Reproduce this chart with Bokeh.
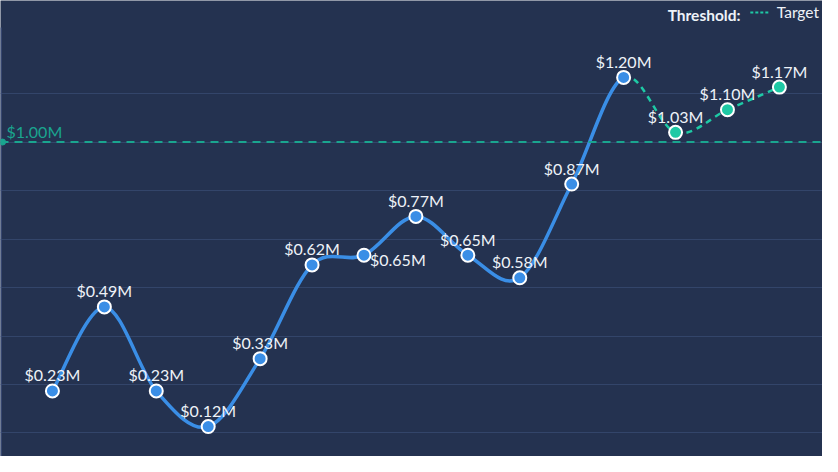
import numpy as np
from bokeh.plotting import figure
from bokeh.models import Range1d, FixedTicker, Span, Label, Legend, LegendItem, ColumnDataSource
from bokeh.core.properties import value
from bokeh.embed import file_html
from bokeh.resources import INLINE

# ---- data ----
periods = list(range(15))
revenue = [0.23, 0.49, 0.23, 0.12, 0.33, 0.62, 0.65, 0.77, 0.65, 0.58, 0.87, 1.20, 1.03, 1.10, 1.17]
actual_count = 12          # first 12 points are actuals, the rest projected
threshold = 1.00
threshold_label = "$1.00M"
grid_ticks = [0.10, 0.25, 0.40, 0.55, 0.70, 0.85, 1.00, 1.15]

BG = "#243250"
BLUE = "#3a8ee6"
TEAL = "#1ec9a5"
TEAL_DIM = "#1aa58f"
GRID = "#33456a"
TXT = "#eef2f8"
FONT = "Lato"

p = figure(width=822, height=456, output_backend="svg", toolbar_location=None,
           x_range=Range1d(-1.0, 14.83), y_range=Range1d(0.0273, 1.4378),
           min_border=0, background_fill_color=BG, border_fill_color=BG,
           outline_line_color=None)
p.axis.visible = False
p.xgrid.visible = False
p.yaxis.ticker = FixedTicker(ticks=grid_ticks)
p.ygrid.ticker = FixedTicker(ticks=grid_ticks)
p.ygrid.grid_line_color = GRID
p.ygrid.grid_line_width = 1

# left axis line
p.segment(x0=[-0.99], y0=[p.y_range.start], x1=[-0.99], y1=[1.354], line_color="#3b4d78", line_width=1.5)

# threshold line
p.add_layout(Span(location=threshold, dimension="width", line_color=TEAL_DIM,
                  line_width=2, line_dash="8 6"))
p.scatter([-0.96], [threshold], size=6, color=TEAL_DIM)
p.add_layout(Label(x=p.x_range.start, y=threshold, text=threshold_label, x_offset=6, y_offset=11,
                   text_font=FONT, text_font_size="16px", text_color=TEAL_DIM,
                   text_baseline="middle", text_align="left"))

# Catmull-Rom bezier segments computed from data
x = np.array(periods, dtype=float)
y = np.array(revenue, dtype=float)
n = len(x)
def seg(i):
    im1 = max(i - 1, 0); ip2 = min(i + 2, n - 1)
    c0x = x[i] + (x[i + 1] - x[im1]) / 6.0
    c0y = y[i] + (y[i + 1] - y[im1]) / 6.0
    c1x = x[i + 1] - (x[ip2] - x[i]) / 6.0
    c1y = y[i + 1] - (y[ip2] - y[i]) / 6.0
    return x[i], y[i], x[i + 1], y[i + 1], c0x, c0y, c1x, c1y

KEYS = ["x0", "y0", "x1", "y1", "cx0", "cy0", "cx1", "cy1"]
def seg_source(idx):
    cols = {k: [] for k in KEYS}
    for i in idx:
        for k, v in zip(KEYS, seg(i)):
            cols[k].append(v)
    return ColumnDataSource(cols)

a = actual_count - 1
p.bezier(*KEYS, source=seg_source(range(0, a)), line_color=BLUE, line_width=3.5)
p.bezier(*KEYS, source=seg_source(range(a, n - 1)), line_color=TEAL, line_width=2.5, line_dash="6 5")

# markers
p.scatter(periods[:actual_count], revenue[:actual_count], size=13, fill_color=BLUE,
          line_color="white", line_width=2)
p.scatter(periods[actual_count:], revenue[actual_count:], size=13, fill_color=TEAL,
          line_color="white", line_width=2)

# data labels
labels = ["$%.2fM" % v for v in revenue]
align = ["center"] * n
xo = [0] * n
yo = [-16] * n
align[6] = "left"; xo[6] = 6; yo[6] = 4
src = ColumnDataSource(dict(x=periods, y=revenue, t=labels, a=align, xo=xo, yo=yo))
p.text(x="x", y="y", text="t", source=src, text_align="a", x_offset="xo", y_offset="yo",
       text_baseline="middle", text_font=value(FONT), text_font_size="16px", text_color=TXT)

# legend (icon from a single-point line that draws nothing on the plot)
dummy = p.line([periods[0]], [threshold], line_color=TEAL, line_width=2, line_dash="3 2")
leg = Legend(items=[LegendItem(label="Target", renderers=[dummy])], location="top_right",
             orientation="horizontal", background_fill_alpha=0, border_line_color=None,
             label_text_font=FONT, label_text_font_size="15.5px", label_text_color=TXT,
             glyph_width=20, glyph_height=14, label_standoff=7, padding=0, margin=3)
p.add_layout(leg)
p.add_layout(Label(x=740, y=442, x_units="screen", y_units="screen", text="Threshold:",
                   text_font=FONT, text_font_size="15.5px", text_font_style="bold",
                   text_color=TXT, text_align="right", text_baseline="middle"))

open("out.html", "w").write(file_html(p, INLINE))
